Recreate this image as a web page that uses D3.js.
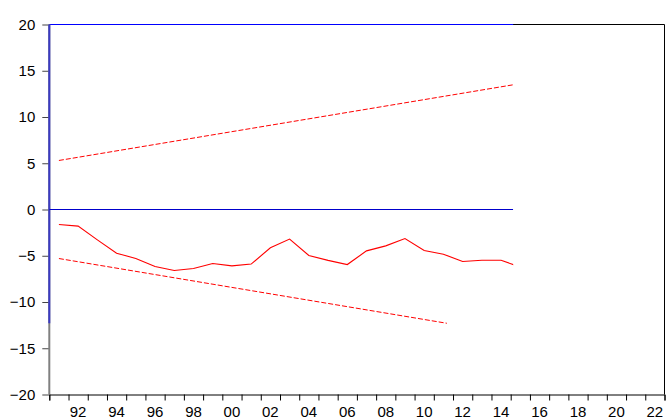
<!DOCTYPE html>
<html>
<head>
<meta charset="utf-8">
<script src="https://cdn.jsdelivr.net/npm/d3@7"></script>
<style>
  body { margin: 0; background: #fff; }
  svg text { font-family: Arial, "Liberation Sans", sans-serif; font-size: 15px; fill: #000; }
</style>
</head>
<body>
<div id="chart"></div>
<script>
// CUSUM series, one value per year
var years = [1991, 1992, 1993, 1994, 1995, 1996, 1997, 1998, 1999, 2000, 2001, 2002, 2003,
             2004, 2005, 2006, 2007, 2008, 2009, 2010, 2011, 2012, 2013, 2014, 2015];
var cusum = [-1.62, -1.80, -3.28, -4.72, -5.30, -6.16, -6.60, -6.38, -5.84, -6.09, -5.90, -4.14, -3.20,
             -4.97, -5.50, -5.95, -4.47, -3.93, -3.14, -4.43, -4.83, -5.62, -5.48, -5.48, -6.24];

// 5% significance bands (straight lines, start and end)
var upperYears = [1991, 2015];
var upperBand = [5.30, 13.61];
var lowerYears = [1991, 2011.18];
var lowerBand = [-5.30, -12.30];

var yTicks = [20, 15, 10, 5, 0, -5, -10, -15, -20];
var xLabels = ["92", "94", "96", "98", "00", "02", "04", "06", "08", "10", "12", "14", "16", "18", "20", "22"];
var dataEnd = 2015.13;   // where the drawn data stops

var W = 666, H = 419;
var svg = d3.select("#chart").append("svg")
  .attr("width", W)
  .attr("height", H);

var x = d3.scaleLinear().domain([1991, 2023]).range([49.3, 664.5]);
var y = d3.scaleLinear().domain([-20, 20]).range([394.5, 24.5]);

svg.append("defs").append("clipPath").attr("id", "clip")
  .append("rect")
  .attr("x", x(1991)).attr("y", 0)
  .attr("width", x(dataEnd) - x(1991)).attr("height", H);

// box: right side and top
svg.append("line")
  .attr("x1", x(2023)).attr("x2", x(2023)).attr("y1", y(20)).attr("y2", y(-20))
  .attr("stroke", "#000").attr("stroke-width", 1);
svg.append("line")
  .attr("x1", x(1991)).attr("x2", x(2023)).attr("y1", y(20)).attr("y2", y(20))
  .attr("stroke", "#000").attr("stroke-width", 1);
svg.append("line")
  .attr("x1", x(1991)).attr("x2", x(dataEnd)).attr("y1", y(20)).attr("y2", y(20))
  .attr("stroke", "#0000ff").attr("stroke-width", 1);

// y axis
var yAxis = svg.append("g")
  .attr("transform", "translate(" + x(1991) + ",0)")
  .call(d3.axisLeft(y).tickValues(yTicks).tickSize(7).tickPadding(7));
yAxis.select(".domain").remove();
yAxis.selectAll(".tick line").attr("stroke", "#444");
yAxis.selectAll("text").style("font-size", "15px").style("font-family", "Arial, 'Liberation Sans', sans-serif");

svg.append("line")
  .attr("x1", x(1991)).attr("x2", x(1991)).attr("y1", y(20)).attr("y2", y(-20))
  .attr("stroke", "#808080").attr("stroke-width", 2);
svg.append("line")
  .attr("x1", x(1991)).attr("x2", x(1991)).attr("y1", y(20)).attr("y2", y(lowerBand[1]))
  .attr("stroke", "#3a3ac4").attr("stroke-width", 2);

// x axis: tick at each year boundary, labels centred on even years
var xAxis = svg.append("g")
  .attr("transform", "translate(0," + y(-20) + ")")
  .call(d3.axisBottom(x).tickValues(d3.range(1991, 2024)).tickSize(6).tickFormat(""));
xAxis.select(".domain").attr("stroke", "#000");
xAxis.selectAll(".tick line").attr("stroke", "#000");

svg.selectAll(".xlab")
  .data(xLabels)
  .enter()
  .append("text")
  .attr("class", "xlab")
  .attr("x", function(d, i) { return x(1992 + i * 2 + 0.5); })
  .attr("y", 417)
  .attr("text-anchor", "middle")
  .text(function(d) { return d; });

var plot = svg.append("g").attr("clip-path", "url(#clip)");

// zero line
plot.append("line")
  .attr("x1", x(1991)).attr("x2", x(dataEnd)).attr("y1", y(0)).attr("y2", y(0))
  .attr("stroke", "#0000cc").attr("stroke-width", 1);

var line = d3.line()
  .x(function(d) { return x(d[0] + 0.5); })
  .y(function(d) { return y(d[1]); });

plot.append("path")
  .datum(d3.zip(upperYears, upperBand))
  .attr("d", line)
  .attr("fill", "none").attr("stroke", "#ff0000").attr("stroke-width", 1)
  .attr("stroke-dasharray", "5,2");

plot.append("path")
  .datum(d3.zip(lowerYears, lowerBand))
  .attr("d", line)
  .attr("fill", "none").attr("stroke", "#ff0000").attr("stroke-width", 1)
  .attr("stroke-dasharray", "5,2");

plot.append("path")
  .datum(d3.zip(years, cusum))
  .attr("d", line)
  .attr("fill", "none").attr("stroke", "#ff0000").attr("stroke-width", 1.1);
</script>
</body>
</html>
